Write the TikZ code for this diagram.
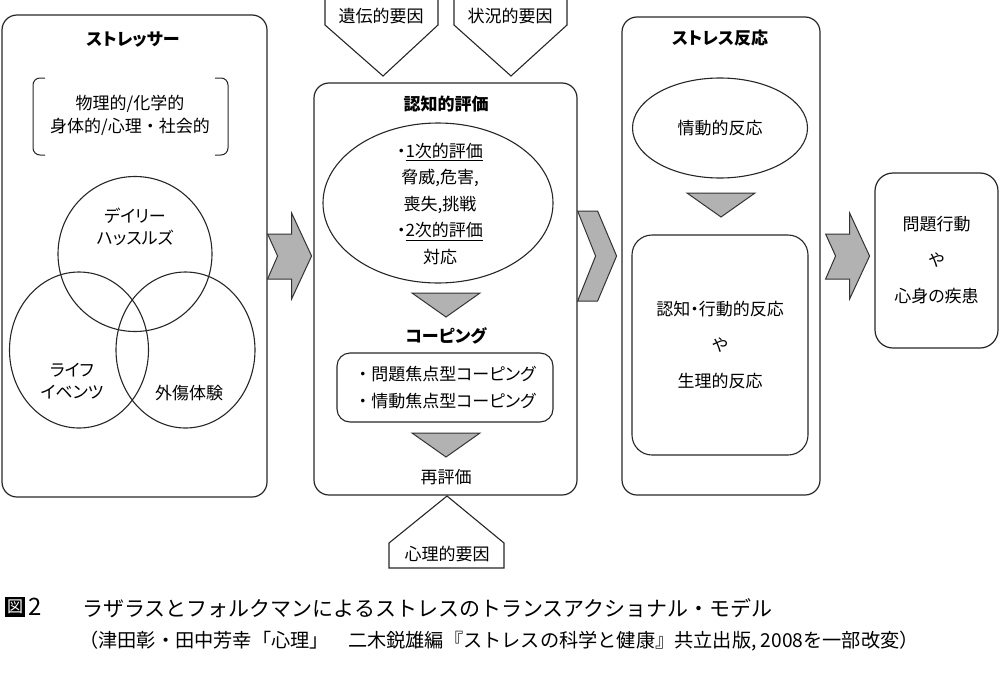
\documentclass[tikz,border=0pt]{standalone}
\usepackage{fontspec}
\setmainfont{Noto Sans CJK JP}[RawFeature=+palt]
\newfontfamily\capfont{Noto Sans CJK JP}
\newcommand{\wdot}{{\capfont ・}}
\usepackage{tikz}
\usetikzlibrary{shapes.geometric}
\tikzstyle{panel} = [rectangle, rounded corners=15, draw=black!85, line width=1.2pt, inner sep=0pt]
\tikzstyle{inbox} = [rectangle, rounded corners=13, draw=black!85, line width=1.1pt]
\tikzstyle{oval} = [ellipse, draw=black!85, line width=1.1pt, inner sep=0pt]
\tikzstyle{ring} = [draw=black!85, line width=1pt]
\tikzstyle{title} = [font=\fontsize{17}{20}\selectfont\bfseries]
\tikzstyle{txt} = [font=\fontsize{17}{23}\selectfont, align=center]
\tikzstyle{wide} = [font=\fontsize{17}{36}\selectfont, align=center]
\tikzstyle{block} = [draw=black!80, fill=black!30, line width=1pt]
\tikzstyle{tag} = [draw=black!85, fill=white, line width=1.1pt]
\tikzstyle{caption} = [anchor=west, inner sep=0pt]
\newcommand{\notcharrow}[1]{\draw[block, shift={#1}] (0,-22) -- (24,-22) -- (24,-43) -- (44,0) -- (24,43) -- (24,23) -- (0,23) -- (10,0) -- cycle;}
\newcommand{\downtri}[1]{\draw[block] #1 ++(-34,0) -- ++(68,0) -- ++(-34,24) -- cycle;}

\begin{document}
\begin{tikzpicture}[x=1pt, y=-1pt]
\useasboundingbox (0,0) rectangle (1000,680);
\node (box1) [panel, minimum width=265, minimum height=482] at (134.5,256) {};
\node (box2) [panel, minimum width=263, minimum height=412] at (445.5,289) {};
\node (box3) [panel, minimum width=198, minimum height=478] at (721,256) {};
\node (box4) [panel, wide, rounded corners=18, minimum width=123, minimum height=175] at (936.5,260.5) {問題行動\\や\\心身の疾患};

\node (t1) [title] at (133,40) {ストレッサー};
\draw [ring, rounded corners=7] (45,78) -- (33,78) -- (33,155) -- (45,155);
\draw [ring, rounded corners=7] (215,78) -- (228,78) -- (228,155) -- (215,155);
\node (kind) [txt] at (130,115) {物理的/化学的\\身体的/心理\wdot 社会的};
\node (c1) [oval, minimum width=154, minimum height=155] at (135,254) {};
\node (c2) [oval, minimum width=139, minimum height=156] at (79,350) {};
\node (c3) [oval, minimum width=139, minimum height=156] at (185.5,350) {};
\node (daily) [txt, font=\fontsize{17}{22}\selectfont] at (135,227) {デイリー\\ハッスルズ};
\node (life) [txt, font=\fontsize{17}{22}\selectfont] at (72,381) {ライフ\\イベンツ};
\node (trauma) [txt] at (189,393) {外傷体験};

\draw [tag] (325,-5) -- (438,-5) -- (438,25) -- (383,76) -- (325,25) -- cycle;
\node (gene) [txt] at (381,16) {遺伝的要因};
\draw [tag] (454,-5) -- (567,-5) -- (567,25) -- (511,76) -- (454,25) -- cycle;
\node (situ) [txt] at (510,16) {状況的要因};
\draw [tag] (389,568) -- (389,543) -- (447,496) -- (504,543) -- (504,568) -- cycle;
\node (psy) [txt] at (447,554) {心理的要因};

\node (t2) [title] at (446,104) {認知的評価};
\node (e1) [oval, minimum width=230, minimum height=160] at (438,203) {};
\node (appr) [txt, font=\fontsize{17}{26.5}\selectfont] at (440,204) {・\underline{1次的評価}\\脅威,危害,\\喪失,挑戦\\・\underline{2次的評価}\\対応};
\downtri{(446,293)}
\node (t3) [title] at (446,336) {コーピング};
\node (cope) [inbox, txt, font=\fontsize{17}{27}\selectfont, minimum width=216, minimum height=69] at (445,387.5) {\wdot 問題焦点型コーピング\\\wdot 情動焦点型コーピング};
\downtri{(446,433)}
\node (reval) [txt] at (446,477) {再評価};

\node (t4) [title] at (720,38) {ストレス反応};
\node (e2) [oval, txt, minimum width=175, minimum height=100] at (720,128) {情動的反応};
\downtri{(721,193)}
\node (resp) [inbox, wide, rounded corners=20, minimum width=176, minimum height=220] at (720,345) {認知・行動的反応\\や\\生理的反応};

\notcharrow{(box1.east)}
\draw [block, shift={(box2.east |- box1.east)}] (0,-45) -- (20,-45) -- (39,0) -- (20,45) -- (0,45) -- (18,0) -- cycle;
\notcharrow{([xshift=5pt]box3.east)}

\node (fig) [fill=black, text=white, inner sep=0pt, minimum size=20, font=\capfont\fontsize{16}{16}\selectfont] at (15,607) {図};
\node (num) [caption, font=\fontsize{24}{24}\selectfont] at (28,607) {2};
\node (cap1) [caption, font=\capfont\fontsize{21}{21}\selectfont] at (82,608) {ラザラスとフォルクマンによるストレスのトランスアクショナル・モデル};
\node (cap2) [caption, font=\capfont\fontsize{19.2}{20}\selectfont] at (79,641) {（津田彰・田中芳幸「心理」　二木鋭雄編『ストレスの科学と健康』共立出版, 2008を一部改変）};
\end{tikzpicture}
\end{document}
